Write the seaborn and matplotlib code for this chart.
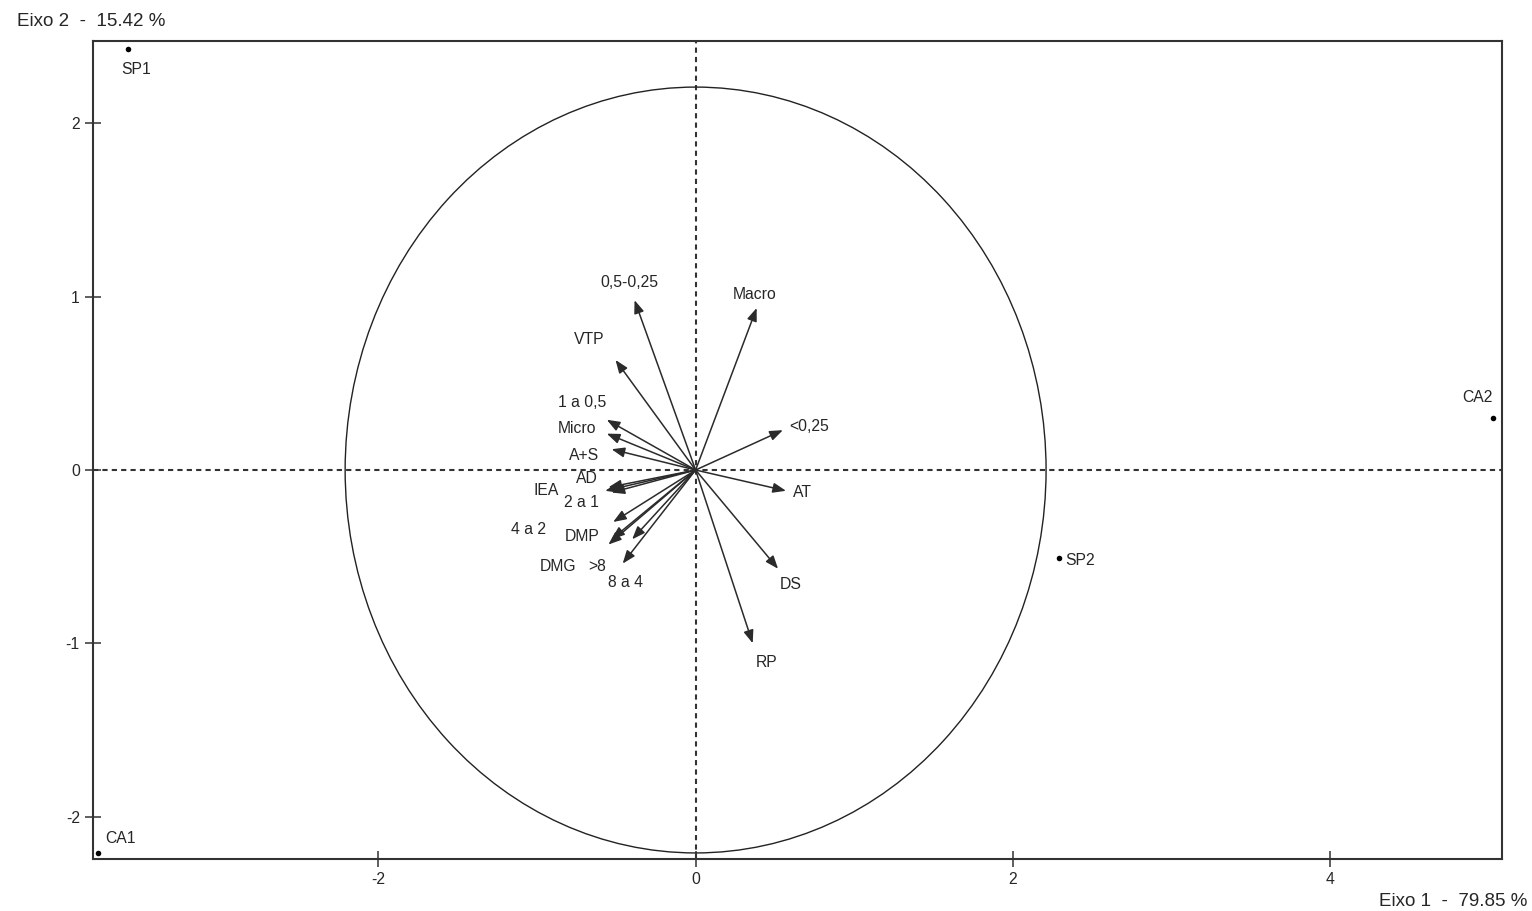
import numpy as np
import pandas as pd
import matplotlib
matplotlib.use("Agg")
import matplotlib.pyplot as plt
import seaborn as sns
from matplotlib.patches import Circle

# ---- data ----
obs_names = ["SP1", "CA1", "CA2", "SP2"]
obs_x = [-3.58, -3.77, 5.03, 2.29]
obs_y = [2.43, -2.21, 0.30, -0.51]

var_names = ["0,5-0,25", "Macro", "VTP", "1 a 0,5", "Micro", "A+S", "<0,25",
             "AD", "IEA", "2 a 1", "4 a 2", "DMP", "DMG", ">8", "8 a 4",
             "AT", "DS", "RP"]
var_x = [-0.385, 0.385, -0.505, -0.56, -0.56, -0.53, 0.55,
         -0.55, -0.57, -0.53, -0.52, -0.53, -0.55, -0.40, -0.46,
         0.57, 0.52, 0.36]
var_y = [0.98, 0.935, 0.635, 0.29, 0.21, 0.12, 0.23,
         -0.10, -0.12, -0.13, -0.30, -0.40, -0.43, -0.40, -0.54,
         -0.12, -0.57, -1.00]

circle_radius = 2.21
x_ticks = [-2, 0, 2, 4]
y_ticks = [-2, -1, 0, 1, 2]
x_title = "Eixo 1  -  79.85 %"
y_title = "Eixo 2  -  15.42 %"

# ---- label offsets (pixels) ----
var_off = {"0,5-0,25": (-5, 18), "Macro": (-2, 14), "VTP": (-26, 20),
           "1 a 0,5": (-25, 17), "Micro": (-30, 5), "A+S": (-28, -6),
           "<0,25": (26, 4), "AD": (-21, 9), "IEA": (-59, 0), "2 a 1": (-30, -10),
           "4 a 2": (-85, -8), "DMP": (-29, 3), "DMG": (-50, -22),
           ">8": (-35, -27), "8 a 4": (3, -19), "AT": (16, -2),
           "DS": (13, -16), "RP": (14, -19)}
obs_off = {"SP1": (8, -21), "CA1": (23, 14), "CA2": (-16, 21), "SP2": (21, -2)}

sns.set_theme(style="ticks")
plt.rcParams["font.family"] = ["Liberation Sans", "DejaVu Sans"]
txt_color = "#262626"
fs = 11.3

fig = plt.figure(figsize=(15.32, 9.11), dpi=100)
ax = fig.add_axes([93/1532, 1 - 859/911, (1502-93)/1532, (859-41)/911])

obs_df = pd.DataFrame({"x": obs_x, "y": obs_y, "name": obs_names})
sns.scatterplot(data=obs_df, x="x", y="y", ax=ax, color="black", s=16,
                edgecolor="black", linewidth=0, zorder=5, legend=False)
for n, x, y in zip(obs_names, obs_x, obs_y):
    dx, dy = obs_off[n]
    ax.annotate(n, (x, y), xytext=(dx, dy), textcoords="offset pixels",
                ha="center", va="center", fontsize=fs, color=txt_color)

ax.axhline(0, color="#333333", lw=1.5, ls=(0, (2.5, 2)), zorder=1)
ax.axvline(0, color="#333333", lw=1.5, ls=(0, (2.5, 2)), zorder=1)
ax.add_patch(Circle((0, 0), circle_radius, fill=False, ec="#222222", lw=1.0, zorder=2))

for n, x, y in zip(var_names, var_x, var_y):
    ax.annotate("", xy=(x, y), xytext=(0, 0),
                arrowprops=dict(arrowstyle="-|>,head_length=0.65,head_width=0.25",
                                color="#2b2b2b", lw=1.1, shrinkA=0, shrinkB=0),
                zorder=3)
    dx, dy = var_off[n]
    ax.annotate(n, (x, y), xytext=(dx, dy), textcoords="offset pixels",
                ha="center", va="center", fontsize=fs, color=txt_color)

ax.set_xlim(-3.80, 5.085)
ax.set_ylim(-2.245, 2.476)
ax.set_xticks(x_ticks)
ax.set_yticks(y_ticks)
ax.set_xticklabels([str(t) for t in x_ticks])
ax.set_yticklabels([str(t) for t in y_ticks])
ax.tick_params(direction="inout", length=11, width=1.1, colors="#333333",
               labelcolor=txt_color, labelsize=fs, pad=4)
ax.set_xlabel("")
ax.set_ylabel("")
for s in ax.spines.values():
    s.set_color("#333333")
    s.set_linewidth(1.5)

fig.text(17/1532, 1 - 21/911, y_title, ha="left", va="center", fontsize=13.5, color=txt_color)
fig.text(1527/1532, 1 - 902/911, x_title, ha="right", va="center", fontsize=13.5, color=txt_color)

fig.savefig("out.png", dpi=100)
